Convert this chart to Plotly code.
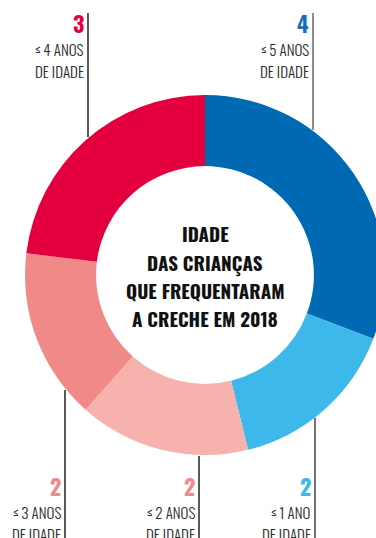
import plotly.graph_objects as go

# Data
line1 = ["≤ 5 ANOS", "≤ 1 ANO", "≤ 2 ANOS", "≤ 3 ANOS", "≤ 4 ANOS"]
line2 = ["DE IDADE", "DE IDADE", "DE IDADE", "DE IDADE", "DE IDADE"]
values = [4, 2, 2, 2, 3]
colors = ["#0069B4", "#3DB8EA", "#F7B2AE", "#F08A89", "#E4003F"]
num_colors = ["#1A6DB4", "#3DB8EA", "#F08A89", "#F08A89", "#E4003F"]
title_lines = ["IDADE", "DAS CRIANÇAS", "QUE FREQUENTARAM", "A CRECHE EM 2018"]

W, H = 386, 538
FONT = "Oswald"

def px(x):
    return x / W

def py(y):
    return 1 - y / H

cx, cy, R = 205, 275, 180

fig = go.Figure(go.Pie(
    values=values,
    labels=[a + " " + b for a, b in zip(line1, line2)],
    marker=dict(colors=colors, line=dict(width=0)),
    hole=0.605,
    sort=False,
    direction="clockwise",
    rotation=0,
    textinfo="none",
    hoverinfo="label+value",
    showlegend=False,
    domain=dict(x=[px(cx - R), px(cx + R)], y=[py(cy + R), py(cy - R)]),
))

# label placements (page pixels)
line_x = [313, 315, 199, 65, 88]
line_y0 = [13, 418, 456, 390, 13]
line_y1 = [130, 538, 538, 538, 137]
num_y = [23, 486, 486, 486, 23]
line_colors = ["#666666", "#444444", "#222222", "#222222", "#222222"]

shapes = []
annotations = []
for i in range(len(values)):
    shapes.append(dict(type="line", xref="paper", yref="paper",
                       x0=px(line_x[i]), x1=px(line_x[i]),
                       y0=py(line_y0[i]), y1=py(line_y1[i]),
                       line=dict(color=line_colors[i], width=1.5), layer="above"))
    annotations.append(dict(xref="paper", yref="paper", x=px(line_x[i] - 2), y=py(num_y[i]),
                            xanchor="right", yanchor="middle", showarrow=False,
                            text=str(values[i]),
                            font=dict(family=FONT, size=22, weight=700, color=num_colors[i])))
    annotations.append(dict(xref="paper", yref="paper", x=px(line_x[i] - 2), y=py(num_y[i] + 26),
                            xanchor="right", yanchor="middle", showarrow=False,
                            text=line1[i],
                            font=dict(family=FONT, size=15, weight=300, color="#2a2a2a")))
    annotations.append(dict(xref="paper", yref="paper", x=px(line_x[i] - 2), y=py(num_y[i] + 48),
                            xanchor="right", yanchor="middle", showarrow=False,
                            text=line2[i],
                            font=dict(family=FONT, size=15, weight=300, color="#2a2a2a")))

title_y = [233, 262, 290, 318]
for t, yy in zip(title_lines, title_y):
    annotations.append(dict(xref="paper", yref="paper", x=px(cx), y=py(yy),
                            xanchor="center", yanchor="middle", showarrow=False,
                            text=t,
                            font=dict(family=FONT, size=19, weight=700, color="#111111")))

fig.update_layout(
    width=W, height=H,
    margin=dict(l=0, r=0, t=0, b=0),
    paper_bgcolor="white", plot_bgcolor="white",
    shapes=shapes, annotations=annotations,
)

fig.write_html("out.html",
               config={"displayModeBar": False},
               post_script="document.body.style.margin='0';document.body.style.overflow='hidden';")
